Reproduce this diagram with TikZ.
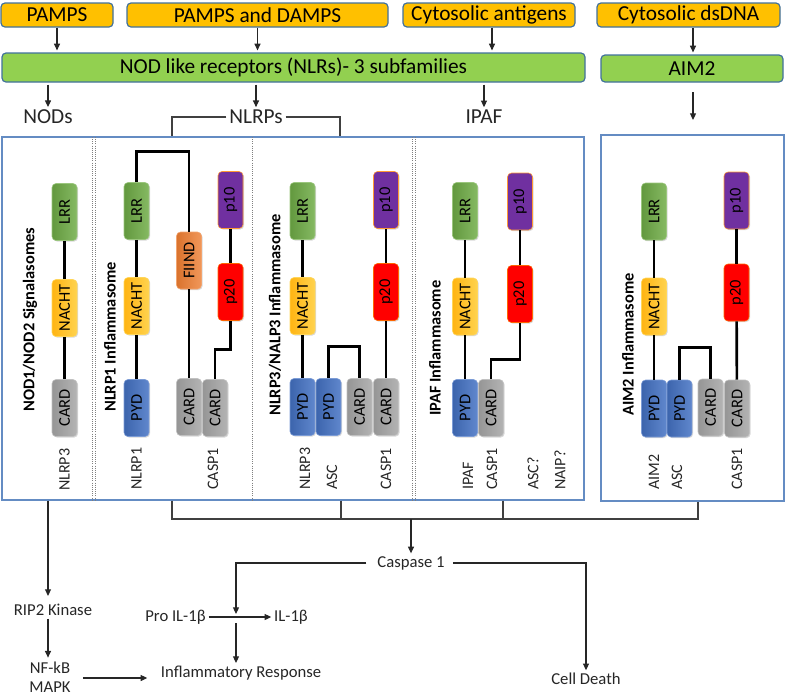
\documentclass[tikz,border=0pt]{standalone}
\usepackage{fontspec}
\setmainfont{Carlito}
\usetikzlibrary{arrows.meta,calc,shadows}
\definecolor{boxblue}{RGB}{65,113,156}
\definecolor{panelblue}{RGB}{100,140,195}
\definecolor{orangeF}{RGB}{255,192,0}
\definecolor{greenF}{RGB}{146,208,80}
\definecolor{lrrC}{RGB}{112,173,71}
\definecolor{nachtC}{RGB}{255,196,20}
\definecolor{pydC}{RGB}{68,114,196}
\definecolor{cardC}{RGB}{166,166,166}
\definecolor{fiindC}{RGB}{237,125,49}
\definecolor{ptwentyC}{RGB}{255,0,0}
\definecolor{ptenC}{RGB}{112,48,160}
\begin{document}
\begin{tikzpicture}[x=0.75pt,y=-0.75pt,
  topbox/.style={draw=boxblue, line width=0.9pt, rounded corners=3pt, fill=orangeF, font=\fontsize{16}{19}\selectfont, minimum height=18pt, inner sep=0pt},
  greenbox/.style={draw=boxblue, line width=0.9pt, rounded corners=3pt, fill=greenF, font=\fontsize{16}{19}\selectfont, inner sep=0pt},
  panel/.style={draw=panelblue, line width=0.9pt, inner sep=0pt},
  dom/.style={rotate=90, minimum width=42.75pt, minimum height=18.75pt, rounded corners=3pt, inner sep=0pt, font=\fontsize{12.3}{14}\selectfont, drop shadow={shadow xshift=0.8pt, shadow yshift=-0.8pt, opacity=0.3}},
  lrr/.style={dom, left color=lrrC!88!black, right color=lrrC!85!white, draw=lrrC!70!white, line width=0.4pt},
  nacht/.style={dom, left color=nachtC!92!red, right color=nachtC!75!white, draw=nachtC!70!white, line width=0.4pt},
  pyd/.style={dom, left color=pydC!88!black, right color=pydC!85!white, draw=pydC!70!white, line width=0.4pt},
  card/.style={dom, left color=cardC!90!black, right color=cardC!85!white, draw=cardC!70!white, line width=0.4pt},
  fiind/.style={dom, left color=fiindC!92!black, right color=fiindC!80!white, draw=fiindC!70!white, line width=0.4pt},
  ptwenty/.style={dom, fill=ptwentyC, draw=orange!80!red, line width=0.4pt},
  pten/.style={dom, fill=ptenC, draw=orange!80, line width=0.4pt},
  bond/.style={line width=2pt, black},
  arr/.style={-{Triangle[length=5pt,width=4.5pt]}, line width=0.8pt, black!85},
  brk/.style={line width=1pt, black!75},
  sep/.style={densely dotted, gray, line width=0.6pt},
  lab/.style={rotate=90, anchor=west, font=\fontsize{12}{14}\selectfont, inner sep=0pt, text=black!85},
  ttl/.style={rotate=90, anchor=west, font=\bfseries\fontsize{12.3}{14}\selectfont, inner sep=0pt},
  txt/.style={font=\fontsize{12.5}{15}\selectfont, inner sep=2pt, text=black!85},
  big/.style={font=\fontsize{16}{19}\selectfont, inner sep=2pt, text=black!85}
]
\useasboundingbox (0,0) rectangle (787,697);

% top boxes
\node[topbox, minimum width=84pt] (pamps) at (57,15) {PAMPS};
\node[topbox, minimum width=195.75pt] (pd) at (257.5,15) {PAMPS and DAMPS};
\node[topbox, minimum width=129pt] (ca) at (489,15) {Cytosolic antigens};
\node[topbox, minimum width=137.25pt] (dna) at (688.5,15) {Cytosolic dsDNA};
\node[greenbox, minimum width=437.25pt, minimum height=21.75pt] (nlr) at (293.5,67.5) {NOD like receptors (NLRs)- 3 subfamilies};
\node[greenbox, minimum width=136.5pt, minimum height=20.25pt] (aimg) at (692,68.5) {AIM2};

\coordinate (xca) at (492,0);
\coordinate (xdna) at (693,0);
\draw[arr, shorten >=1.5pt] (pamps.south) -- (pamps.south |- nlr.north);
\draw[arr, shorten >=1.5pt] (pd.south) -- (pd.south |- nlr.north);
\draw[arr, shorten >=1.5pt] (xca |- ca.south) -- (xca |- nlr.north);
\draw[arr, shorten >=1.5pt] (xdna |- dna.south) -- (xdna |- aimg.north);

% subfamily labels
\node[big] (nods) at (48,117) {NODs};
\node[big] (nlrps) at (256,117) {NLRPs};
\node[big] (ipaf) at (484,117) {IPAF};
\draw[arr, shorten <=1.5pt] (nods.north |- nlr.south) -- (nods.north);
\draw[arr, shorten <=1.5pt] (nlrps.north |- nlr.south) -- (nlrps.north);
\draw[arr, shorten <=1.5pt] (ipaf.north |- nlr.south) -- (ipaf.north);

% panels
\node[panel, minimum width=436.5pt, minimum height=272.25pt] (mainbox) at (293,318.5) {};
\node[panel, minimum width=137.25pt, minimum height=274.5pt] (aimbox) at (692.5,318) {};
\coordinate (aimtop) at (693,92);
\draw[arr] (aimtop) -- ++(0,28);

% NLRPs bracket
\coordinate (bL) at (172,0);
\coordinate (bR) at (340,0);
\draw[brk] (nlrps.west) -| (bL |- mainbox.north);
\draw[brk] (nlrps.east) -| (bR |- mainbox.north);

% separators
\draw[sep] (92,137) -- (92,500);
\draw[sep] (95,137) -- (95,500);
\draw[sep] (252,137) -- (252,500);
\draw[sep] (412,137) -- (412,500);
\draw[sep] (415,137) -- (415,500);

% NOD panel
\node[lrr] (n1lrr) at (64.5,212) {LRR};
\node[nacht] (n1nacht) at (64.5,308) {NACHT};
\node[card] (n1card) at (64.5,408) {CARD};
\draw[bond] (n1lrr) -- (n1nacht);
\draw[bond] (n1nacht) -- (n1card);
\node[ttl] (t1) at (30,412) {NOD1/NOD2 Signalasomes};
\node[lab] (l1) at (64.5,491) {NLRP3};

% NLRP1 panel
\node[lrr] (p1lrr) at (136.5,211) {LRR};
\node[nacht] (p1nacht) at (136.5,306) {NACHT};
\node[pyd] (p1pyd) at (136.5,408) {PYD};
\node[fiind] (p1fiind) at (189,260.5) {FIIND};
\node[card] (p1card) at (189,407) {CARD};
\node[card] (p1casp) at (215,408) {CARD};
\node[ptwenty] (p1p20) at (230.5,292) {p20};
\node[pten] (p1p10) at (230.5,200) {p10};
\draw[bond] (p1lrr) -- (p1nacht);
\draw[bond] (p1nacht) -- (p1pyd);
\draw[bond] (p1lrr.east) -- ++(0,-31) -| (p1fiind.east);
\draw[bond] (p1fiind) -- (p1card);
\draw[bond] (p1p10) -- (p1p20);
\draw[bond] (p1p20.west) -- ++(0,29) -| (p1casp.east);
\node[ttl] (t2) at (110,412) {NLRP1 Inflammasome};
\node[lab] (l2a) at (136.5,490) {NLRP1};
\node[lab] (l2b) at (213,490) {CASP1};

% NLRP3 panel
\node[lrr] (p3lrr) at (302.5,211) {LRR};
\node[nacht] (p3nacht) at (302.5,306) {NACHT};
\node[pyd] (p3pyd) at (302.5,407) {PYD};
\node[pyd] (p3asc) at (328.5,407) {PYD};
\node[card] (p3asccard) at (359.5,407) {CARD};
\node[card] (p3casp) at (386,407) {CARD};
\node[ptwenty] (p3p20) at (386,292) {p20};
\node[pten] (p3p10) at (386,200) {p10};
\draw[bond] (p3lrr) -- (p3nacht);
\draw[bond] (p3nacht) -- (p3pyd);
\draw[bond] (p3asc.east) -- ++(0,-32) -| (p3asccard.east);
\draw[bond] (p3p10) -- (p3p20);
\draw[bond] (p3p20) -- (p3casp);
\node[ttl] (t3) at (275,416) {NLRP3/NALP3 Inflammasome};
\node[lab] (l3a) at (305,490) {NLRP3};
\node[lab] (l3b) at (332,490) {ASC};
\node[lab] (l3c) at (386,490) {CASP1};

% IPAF panel
\node[lrr] (iplrr) at (465,211) {LRR};
\node[nacht] (ipnacht) at (465,306.5) {NACHT};
\node[pyd] (ippyd) at (465,408) {PYD};
\node[card] (ipcard) at (491,408) {CARD};
\node[ptwenty] (ipp20) at (520,294) {p20};
\node[pten] (ipp10) at (520,201.5) {p10};
\draw[bond] (iplrr) -- (ipnacht);
\draw[bond] (ipnacht) -- (ippyd);
\draw[bond] (ipp10) -- (ipp20);
\draw[bond] (ipp20.west) -- ++(0,37) -| (ipcard.east);
\node[ttl] (t4) at (435,416) {IPAF Inflammasome};
\node[lab] (l4a) at (468,490) {IPAF};
\node[lab] (l4b) at (492,490) {CASP1};
\node[lab] (l4c) at (533,490) {ASC?};
\node[lab] (l4d) at (560,490) {NAIP?};

% AIM2 panel
\node[lrr] (alrr) at (654,211.5) {LRR};
\node[nacht] (anacht) at (654,306.5) {NACHT};
\node[pyd] (apyd) at (654,408.5) {PYD};
\node[pyd] (aasc) at (679.5,408.5) {PYD};
\node[card] (aasccard) at (710.5,407.5) {CARD};
\node[card] (acasp) at (737,408.5) {CARD};
\node[ptwenty] (ap20) at (736.5,292.5) {p20};
\node[pten] (ap10) at (736.5,200.5) {p10};
\draw[bond] (alrr) -- (anacht);
\draw[bond] (anacht) -- (apyd);
\draw[bond] (aasc.east) -- ++(0,-32) -| (aasccard.east);
\draw[bond] (ap10) -- (ap20);
\draw[bond] (ap20) -- (acasp);
\node[ttl] (t5) at (628,416) {AIM2 Inflammasome};
\node[lab] (l5a) at (654,490) {AIM2};
\node[lab] (l5b) at (677,490) {ASC};
\node[lab] (l5c) at (737,490) {CASP1};

% bottom bracket to Caspase 1
\coordinate (bb) at (0,519);
\coordinate (b3) at (503,0);
\coordinate (b4) at (698,0);
\coordinate (bR2) at (341,0);
\draw[brk] (bL |- mainbox.south) -- (bL |- bb) -- (b4 |- bb) -- (b4 |- aimbox.south);
\draw[brk] (bR2 |- mainbox.south) -- (bR2 |- bb);
\draw[brk] (b3 |- mainbox.south) -- (b3 |- bb);

\node[txt] (casp) at (411,563) {Caspase 1};
\draw[arr] (casp.north |- bb) -- (casp.north);
\node[txt] (death) at (586,679) {Cell Death};
\draw[arr, shorten <=4pt] (casp.east) -| (death.north);

% NOD branch
\coordinate (nodx) at (48,0);
\node[txt] (rip) at (53,610) {RIP2 Kinase};
\node[txt, align=center, font=\fontsize{12.5}{14}\selectfont] (nfkb) at (50,677) {NF-kB\\MAPK};
\draw[arr, shorten >=4pt] (nodx |- mainbox.south) -- (nodx |- rip.north);
\draw[arr, shorten >=1pt] (nodx |- rip.south) -- (nodx |- nfkb.north);

% IL-1beta
\node[txt] (proil) at (175.5,617) {Pro IL-1β};
\node[txt] (il) at (291,617) {IL-1β};
\node[txt] (inflam) at (241,673) {Inflammatory Response};
\coordinate (j) at (236,614);
\coordinate (j2) at (236,623);
\draw[arr, shorten <=6pt] (casp.west) -| (j);
\draw[arr] (proil.east) -- (il.west);
\draw[arr] (j2) -- (j2 |- inflam.north);
\draw[arr, shorten <=7pt, shorten >=8pt] (nfkb.east |- 0,678) -- (inflam.west |- 0,678);
\end{tikzpicture}
\end{document}
